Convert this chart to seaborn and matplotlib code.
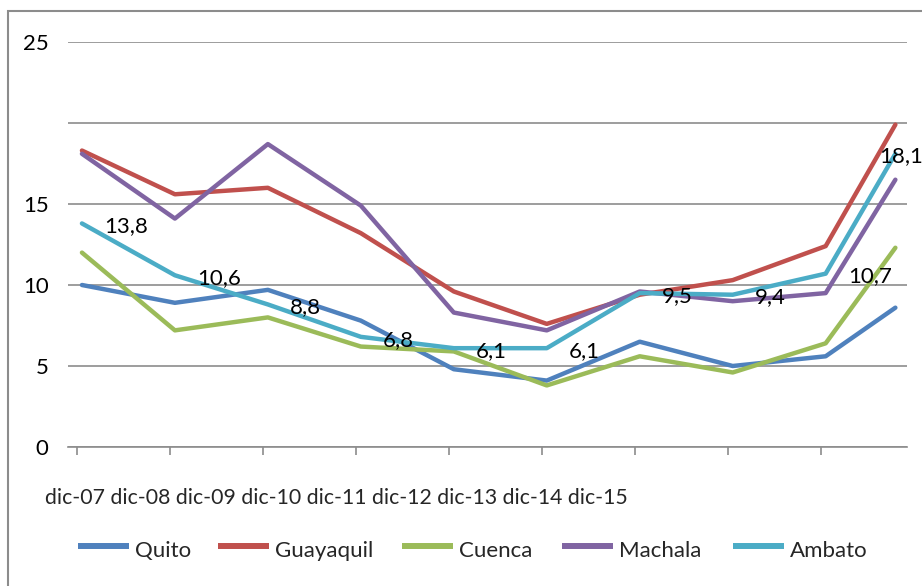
import pandas as pd
import matplotlib
matplotlib.use("Agg")
import matplotlib.pyplot as plt
import matplotlib.patches as mpatches
from matplotlib.lines import Line2D
import seaborn as sns

# %%
# datos
periodos = ["dic-07", "dic-08", "dic-09", "dic-10", "dic-11", "dic-12", "dic-13", "dic-14", "dic-15", "sep-16"]
meses = [0, 12, 24, 36, 48, 60, 72, 84, 96, 105]

quito = [10.0, 8.9, 9.7, 7.8, 4.8, 4.1, 6.5, 5.0, 5.6, 8.6]
guayaquil = [18.3, 15.6, 16.0, 13.2, 9.6, 7.6, 9.4, 10.3, 12.4, 19.9]
cuenca = [12.0, 7.2, 8.0, 6.2, 5.9, 3.8, 5.6, 4.6, 6.4, 12.3]
machala = [18.1, 14.1, 18.7, 14.9, 8.3, 7.2, 9.6, 9.0, 9.5, 16.5]
ambato = [13.8, 10.6, 8.8, 6.8, 6.1, 6.1, 9.5, 9.4, 10.7, 18.1]

ciudades = ["Quito", "Guayaquil", "Cuenca", "Machala", "Ambato"]
colores = ["#4F81BD", "#C0504D", "#9BBB59", "#8064A2", "#4BACC6"]
texto_eje_x = " ".join(periodos[:9])

yticks = [0, 5, 10, 15, 20, 25]
ytick_labels = ["0", "5", "10", "15", "", "25"]

# %%
df = pd.DataFrame({"mes": meses, "Quito": quito, "Guayaquil": guayaquil,
                   "Cuenca": cuenca, "Machala": machala, "Ambato": ambato})
df_long = df.melt(id_vars="mes", var_name="ciudad", value_name="valor")

sns.set_theme(style="white")
plt.rcParams["font.family"] = ["Lato", "DejaVu Sans"]
FS = 16
W, H = 922, 586

fig = plt.figure(figsize=(W / 100, H / 100), dpi=100)
ax = fig.add_axes([68 / W, 1 - 447 / H, (907 - 68) / W, (447 - 42) / H])

sns.lineplot(data=df_long, x="mes", y="valor", hue="ciudad", hue_order=ciudades,
             palette=colores, linewidth=3.2, sort=False, legend=False, ax=ax)

# etiquetas de Ambato
for i, (m, v) in enumerate(zip(meses, ambato)):
    txt = f"{v:.1f}".replace(".", ",")
    off = (16, -2) if i < len(meses) - 1 else (-12, -2)
    ax.annotate(txt, (m, v), xytext=off, textcoords="offset points",
                ha="left", va="center", fontsize=FS, color="black")

ax.set_xlim(-1.8, 106.5)
ax.set_ylim(0, 25)
ax.set_yticks(yticks)
ax.set_yticklabels(ytick_labels, fontsize=FS, color="black")
ax.set_xticks([m - 0.6 for m in meses[:9]])
ax.set_xticklabels([])
ax.set_xlabel("")
ax.set_ylabel("")
ax.tick_params(axis="y", length=0, pad=14)
ax.tick_params(axis="x", direction="out", length=6, width=1.2, color="#8c8c8c", bottom=True)
ax.grid(axis="y", color="#8c8c8c", linewidth=1.2)
ax.grid(axis="x", visible=False)
for s in ["top", "right", "left"]:
    ax.spines[s].set_visible(False)
ax.spines["bottom"].set_color("#8c8c8c")
ax.spines["bottom"].set_linewidth(1.2)
ax.set_facecolor("none")

fig.text(45 / W, 1 - 498 / H, texto_eje_x, fontsize=15.3, ha="left", va="center")

# leyenda
leyenda_x = [78, 218, 402, 562, 733]
for c, nombre, x0 in zip(colores, ciudades, leyenda_x):
    fig.lines.append(Line2D([x0 / W, (x0 + 51) / W], [1 - 546 / H] * 2,
                            transform=fig.transFigure, color=c, linewidth=4.3,
                            solid_capstyle="butt"))
    fig.text((x0 + 57) / W, 1 - 551 / H, nombre, fontsize=FS, ha="left", va="center")

# marco del area del grafico
fig.patches.append(mpatches.Rectangle((8 / W, -0.05), 1.0, 1 - 11 / H + 0.05,
                                      transform=fig.transFigure, fill=False,
                                      edgecolor="#8c8c8c", linewidth=1.5))

plt.savefig("out.png", dpi=100)
